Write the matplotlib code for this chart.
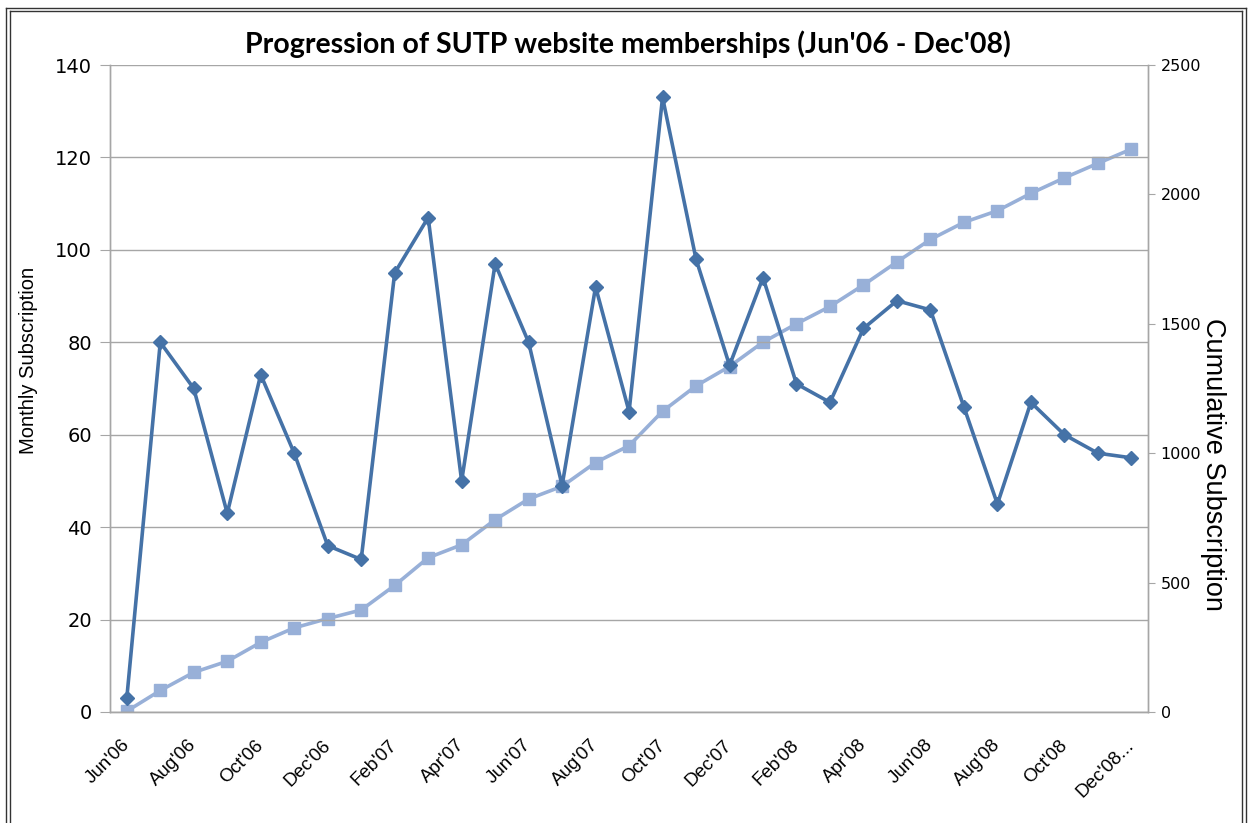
import numpy as np
import matplotlib
matplotlib.use("Agg")
import matplotlib.pyplot as plt
from matplotlib.lines import Line2D

# month categories (Jun'06 .. Dec'08)
months = ["Jun'06", "Jul'06", "Aug'06", "Sep'06", "Oct'06", "Nov'06", "Dec'06",
          "Jan'07", "Feb'07", "Mar'07", "Apr'07", "May'07", "Jun'07", "Jul'07",
          "Aug'07", "Sep'07", "Oct'07", "Nov'07", "Dec'07", "Jan'08", "Feb'08",
          "Mar'08", "Apr'08", "May'08", "Jun'08", "Jul'08", "Aug'08", "Sep'08",
          "Oct'08", "Nov'08", "Dec'08..."]

monthly = [3, 80, 70, 43, 73, 56, 36, 33, 95, 107, 50, 97, 80, 49, 92, 65,
           133, 98, 75, 94, 71, 67, 83, 89, 87, 66, 45, 67, 60, 56, 55]

cumulative = [3, 83, 153, 196, 269, 325, 361, 394, 489, 596, 646, 743, 823,
              872, 964, 1029, 1162, 1260, 1335, 1429, 1500, 1567, 1650, 1739,
              1826, 1892, 1937, 2004, 2064, 2120, 2175]

left_ticks = [0, 20, 40, 60, 80, 100, 120, 140]
right_ticks = [0, 500, 1000, 1500, 2000, 2500]

dark = "#4572A7"
light = "#98B0D8"
grid_col = "#A6A6A6"

fig = plt.figure(figsize=(12.52, 8.23), dpi=100)
ax = fig.add_axes([0.0879, 0.1349, 0.8291, 0.7861])
ax2 = ax.twinx()

x = np.arange(len(months))

# cumulative line sits behind the monthly one
ax2.plot(x, cumulative, color=light, lw=2.6, marker="s", ms=8.5,
         markeredgecolor=light, zorder=2)
ax.plot(x, monthly, color=dark, lw=2.6, marker="D", ms=7,
        markeredgecolor=dark, zorder=3)
ax.set_zorder(ax2.get_zorder() + 1)
ax.patch.set_visible(False)

ax.set_xlim(-0.5, len(months) - 0.5)
ax.set_ylim(0, 140)
ax2.set_ylim(0, 2500)
ax.set_yticks(left_ticks)
ax2.set_yticks(right_ticks)
ax.set_xticks(x[::2])
ax.set_xticklabels(months[::2], rotation=45, ha="right", va="center",
                   rotation_mode="anchor", fontsize=13.5, family="Liberation Sans")
ax.tick_params(axis="x", length=0, pad=22)
ax.tick_params(axis="y", length=7, color=grid_col, labelsize=14, pad=6)
ax2.tick_params(axis="y", length=5, color=grid_col, labelsize=11.5, pad=4)

ax.grid(axis="y", color=grid_col, lw=1)
for a in (ax, ax2):
    for s in a.spines.values():
        s.set_color(grid_col)
        s.set_linewidth(1)
    a.spines["top"].set_visible(False)

ax.set_ylabel("Monthly Subscription", fontsize=14.5, family="Liberation Sans",
              labelpad=12, y=0.544)
ax2.set_ylabel("Cumulative Subscription", fontsize=19.5, family="Liberation Sans",
               rotation=-90, labelpad=18, y=0.382)

fig.text(0.5016, 0.946, "Progression of SUTP website memberships (Jun'06 - Dec'08)",
         fontsize=20.5, fontweight="bold", family="Lato", ha="center", va="center")

# screenshot frame
for xs, ys in [([0.005, 0.005], [0, 0.99]), ([0.008, 0.008], [0, 0.987]),
               ([0.995, 0.995], [0, 0.99]), ([0.992, 0.992], [0, 0.987]),
               ([0.005, 0.995], [0.99, 0.99]), ([0.008, 0.992], [0.987, 0.987])]:
    fig.add_artist(Line2D(xs, ys, color="#333333", lw=1))

fig.savefig("out.png", dpi=100)
